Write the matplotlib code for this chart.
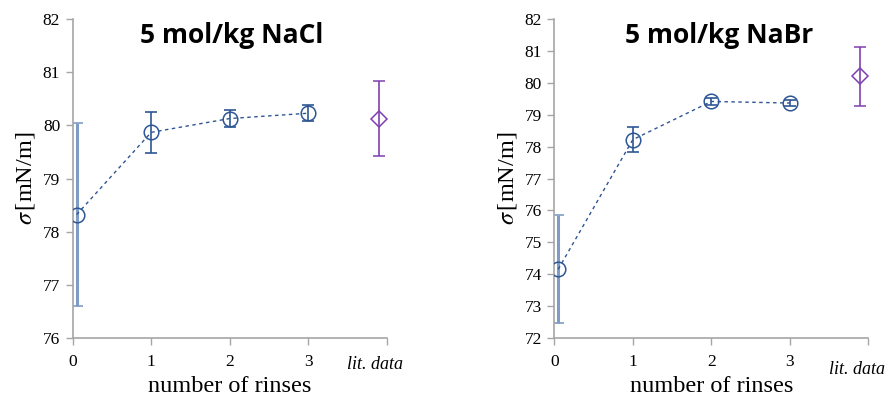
import numpy as np
import matplotlib
matplotlib.use("Agg")
import matplotlib.pyplot as plt

# rinse data (x slightly offset at 0 like the original)
rinses = [0.05, 1, 2, 3]
lit_x = 3.9

nacl_sigma = [78.32, 79.87, 80.13, 80.23]
nacl_err = [1.72, 0.39, 0.16, 0.15]
nacl_lit = 80.13
nacl_lit_err = 0.71

nabr_sigma = [74.15, 78.22, 79.42, 79.37]
nabr_err = [1.70, 0.40, 0.10, 0.10]
nabr_lit = 80.21
nabr_lit_err = 0.92

x_ticks = [0, 1, 2, 3]
blue = "#2E5694"
light_blue = "#7F9CC6"
purple = "#7F3FB0"
grey = "#A6A6A6"

serif = ["Liberation Serif", "DejaVu Serif"]

plt.rcParams["mathtext.fontset"] = "stix"
fig = plt.figure(figsize=(8.91, 3.98), dpi=100)


def draw_panel(rect, sigma, err, lit, lit_err, ylim, yticks, title, title_x, lit_y):
    ax = fig.add_axes(rect)
    # first point has a wide, lighter bar
    ax.errorbar(rinses[0], sigma[0], yerr=err[0], fmt="none", ecolor=light_blue,
                elinewidth=2.2, capsize=4, capthick=1.2, zorder=2)
    ax.errorbar(rinses[1:], sigma[1:], yerr=err[1:], fmt="none", ecolor=blue,
                elinewidth=1.2, capsize=4, capthick=1.2, zorder=2)
    ax.plot(rinses, sigma, linestyle=(0, (2.5, 2.5)), color=blue, linewidth=1.0,
            marker="o", markersize=10.5, markerfacecolor="none",
            markeredgecolor=blue, markeredgewidth=1.1, zorder=3)
    ax.errorbar(lit_x, lit, yerr=lit_err, fmt="D", markersize=8,
                markerfacecolor="none", markeredgecolor=purple, markeredgewidth=1.1,
                ecolor=purple, elinewidth=1.2, capsize=4, capthick=1.2, zorder=3)

    ax.set_xlim(0, 4)
    ax.set_ylim(*ylim)
    ax.set_xticks([0, 1, 2, 3, 4])
    ax.set_xticklabels([str(t) for t in x_ticks] + [""], fontfamily=serif, fontsize=12.5)
    ax.set_yticks(yticks)
    ax.set_yticklabels([str(t) for t in yticks], fontfamily=serif, fontsize=12.5)
    ax.tick_params(colors=grey, labelcolor="black", length=5, width=1, pad=4)
    ax.tick_params(axis="x", pad=7)
    for s in ["top", "right"]:
        ax.spines[s].set_visible(False)
    for s in ["left", "bottom"]:
        ax.spines[s].set_color(grey)
        ax.spines[s].set_linewidth(1.2)

    ax.set_xlabel("number of rinses", fontfamily=serif, fontsize=17.5, labelpad=4)
    ax.set_ylabel(r"$\sigma\,$[mN/m]", fontfamily=serif, fontsize=17.5, labelpad=4)
    ax.text(3.5, lit_y, "lit. data", transform=ax.get_xaxis_transform(),
            ha="left", va="center", fontfamily=serif, fontstyle="italic", fontsize=13)
    ax.text(title_x, 0.95, title, transform=ax.transAxes, ha="center", va="center",
            fontfamily=["Open Sans", "DejaVu Sans"], fontweight="bold", fontsize=19)
    return ax


draw_panel([0.0816, 0.1515, 0.3524, 0.8], nacl_sigma, nacl_err, nacl_lit, nacl_lit_err,
           (76, 82), list(range(76, 83)), "5 mol/kg NaCl", 0.507, -0.085)
draw_panel([0.6221, 0.1515, 0.3524, 0.8], nabr_sigma, nabr_err, nabr_lit, nabr_lit_err,
           (72, 82), list(range(72, 83)), "5 mol/kg NaBr", 0.526, -0.1)

fig.savefig("out.png", dpi=100)
